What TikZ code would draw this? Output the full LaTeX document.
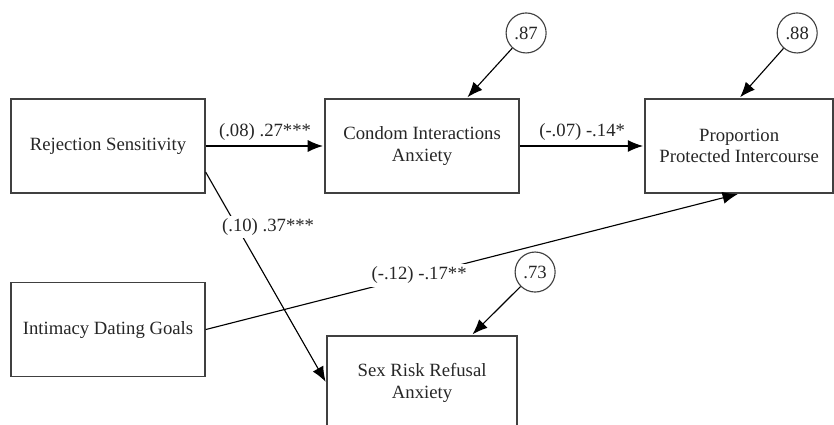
\documentclass[tikz,border=0pt]{standalone}
\usepackage{fontspec}
\setmainfont{Liberation Serif}
\usetikzlibrary{arrows.meta,positioning}

\begin{document}
\begin{tikzpicture}[x=0.025cm,y=-0.025cm,shorten >=1pt,node distance=4cm,on grid,auto,
  font=\fontsize{13.3}{15.5}\selectfont,text=black!85,
  var/.style={draw=black!75,line width=1pt,rectangle,minimum width=4.85cm,minimum height=2.35cm,align=center},
  err/.style={draw=black!75,line width=0.8pt,circle,minimum size=1cm,inner sep=0pt},
  coef/.style={fill=white,anchor=center,inner sep=2pt},
  >={Latex[length=0.38cm,width=0.3cm]}]
\useasboundingbox (0,0) rectangle (834,425);
\node[var] (rs) at (108,146) {Rejection Sensitivity};
\node[var] (cia) [right=7.85cm of rs] {Condom Interactions\\Anxiety};
\node[var,minimum width=4.7cm] (ppi) [right=7.925cm of cia] {Proportion\\Protected Intercourse};
\node[var] (idg) [below=4.5875cm of rs] {Intimacy Dating Goals};
\node[var,minimum width=4.75cm] (srra) [below=5.925cm of cia] {Sex Risk Refusal\\Anxiety};
\node[err] (e87) [above right=2.825cm and 2.6cm of cia] {.87};
\node[err] (e88) [above right=2.825cm and 1.45cm of ppi] {.88};
\node[err] (e73) [above right=2.775cm and 2.825cm of srra] {.73};
 \path[->,line width=0.8pt]
(rs) edge node {(.08) .27***} (cia)
(cia) edge node {(-.07) -.14*} (ppi)
(rs.-15) edge node[coef,pos=0.26,xshift=0.775cm] {(.10) .37***} (srra.west)
(idg.east) edge node[coef,pos=0.4] {(-.12) -.17**} (ppi.south)
(e87) edge (cia.47)
(e88) edge (ppi.north)
(e73) edge (srra.44);
\end{tikzpicture}
\end{document}
